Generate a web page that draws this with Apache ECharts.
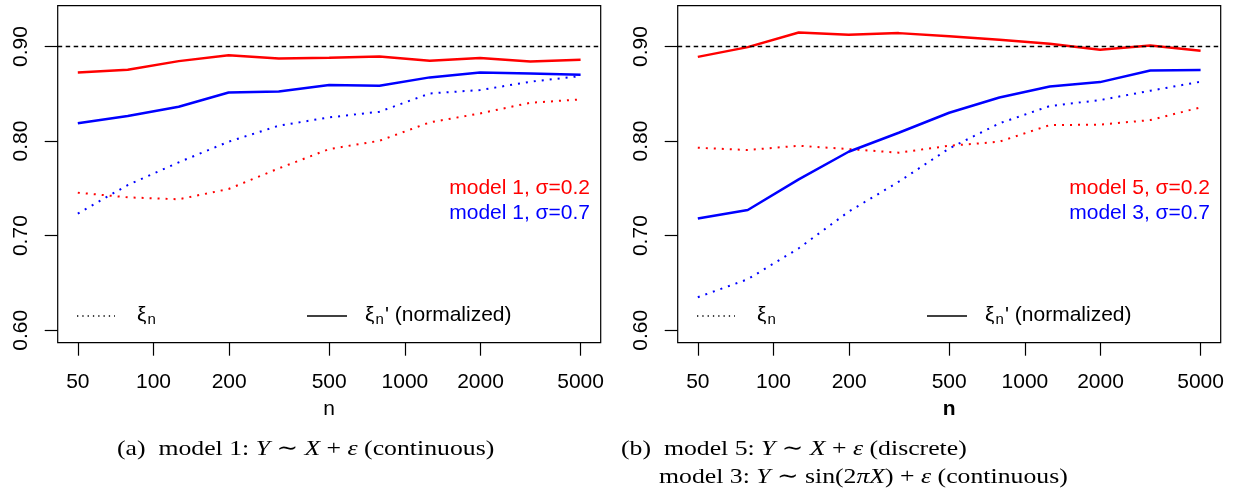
<!DOCTYPE html>
<html>
<head>
<meta charset="utf-8">
<script src="https://cdn.jsdelivr.net/npm/echarts@6/dist/echarts.min.js"></script>
<style>
html,body{margin:0;padding:0;background:#fff;}
#c{width:1235px;height:497px;}
</style>
</head>
<body>
<div id="c"></div>
<script>
// ---- data ----
const N = [50, 79, 126, 199, 315, 500, 792, 1256, 1991, 3155, 5000];
const xTicks = [50, 100, 200, 500, 1000, 2000, 5000];
const yTicks = [0.6, 0.7, 0.8, 0.9];
const refLevel = 0.90;

// panel (a): model 1
const aRedSolid  = [0.8725, 0.8754, 0.8845, 0.8908, 0.8873, 0.8880, 0.8894, 0.8849, 0.8877, 0.8842, 0.8859];
const aBlueSolid = [0.8187, 0.8264, 0.8363, 0.8514, 0.8525, 0.8592, 0.8585, 0.8673, 0.8725, 0.8715, 0.8700];
const aRedDot    = [0.7454, 0.7405, 0.7384, 0.7493, 0.7711, 0.7915, 0.8003, 0.8197, 0.8292, 0.8405, 0.8440];
const aBlueDot   = [0.7233, 0.7535, 0.7775, 0.7993, 0.8162, 0.8250, 0.8310, 0.8503, 0.8539, 0.8627, 0.8687];

// panel (b): model 5 (red) and model 3 (blue)
const bRedSolid  = [0.8890, 0.8993, 0.9148, 0.9123, 0.9141, 0.9109, 0.9070, 0.9028, 0.8965, 0.9011, 0.8954];
const bBlueSolid = [0.7180, 0.7271, 0.7595, 0.7887, 0.8088, 0.8299, 0.8461, 0.8577, 0.8623, 0.8746, 0.8750];
const bRedDot    = [0.7929, 0.7905, 0.7950, 0.7915, 0.7877, 0.7950, 0.7993, 0.8169, 0.8173, 0.8222, 0.8356];
const bBlueDot   = [0.6349, 0.6539, 0.6866, 0.7253, 0.7570, 0.7922, 0.8187, 0.8370, 0.8433, 0.8532, 0.8627];

const legendA = ['model 1, σ=0.2', 'model 1, σ=0.7'];
const legendB = ['model 5, σ=0.2', 'model 3, σ=0.7'];
const xName = 'n';
const captionA = '(a)  model 1: {i|Y} ∼ {i|X} + {i|ε} (continuous)';
const captionB1 = '(b)  model 5: {i|Y} ∼ {i|X} + {i|ε} (discrete)';
const captionB2 = 'model 3: {i|Y} ∼ sin(2{i|π}{i|X}) + {i|ε} (continuous)';

// ---- layout / style ----
const RED = '#ff0000', BLUE = '#0000ff';
const SANS = '"Liberation Sans", Arial, Helvetica, sans-serif';
const SERIF = '"Liberation Serif", "DejaVu Serif", serif';
const FS = 21;
const xMin = Math.pow(10, Math.log10(50) - 0.08);
const xMax = Math.pow(10, Math.log10(5000) + 0.08);
const yMin = 0.6 - 0.33 * 0.04, yMax = 0.93 + 0.33 * 0.04;
const GL = [57.7, 677.7], GT = 5.6, GW = 543, GH = 337.1;

const pair = arr => N.map((n, i) => [n, arr[i]]);

function xAxisFor(idx, bold) {
  return {
    type: 'log', logBase: 10, gridIndex: idx, min: xMin, max: xMax,
    name: xName, nameLocation: 'middle', nameGap: 56,
    nameTextStyle: { fontFamily: SANS, fontSize: FS, color: '#000', fontWeight: bold ? 'bold' : 'normal' },
    axisLine: { show: false },
    axisTick: { show: true, length: 13, customValues: xTicks, lineStyle: { color: '#000', width: 1.2 } },
    axisLabel: { customValues: xTicks, margin: 29, fontFamily: SANS, fontSize: FS, color: '#000',
      formatter: v => String(Math.round(v)) },
    splitLine: { show: false }, minorTick: { show: false }
  };
}
function yAxisFor(idx) {
  return {
    type: 'value', gridIndex: idx, min: yMin, max: yMax,
    axisLine: { show: false },
    axisTick: { show: true, length: 13, customValues: yTicks, lineStyle: { color: '#000', width: 1.2 } },
    axisLabel: { customValues: yTicks, rotate: 90, margin: 26, fontFamily: SANS, fontSize: FS, color: '#000',
      formatter: v => v.toFixed(2) },
    splitLine: { show: false }
  };
}
function lineSeries(idx, arr, color, dotted, withRef) {
  const s = {
    type: 'line', xAxisIndex: idx, yAxisIndex: idx, data: pair(arr),
    showSymbol: false, symbol: 'none', silent: true, animation: false,
    lineStyle: dotted ? { color, width: 2, type: [2, 6], cap: 'butt' } : { color, width: 2.5 },
    z: 3
  };
  if (withRef) {
    s.markLine = {
      silent: true, symbol: ['none', 'none'], label: { show: false }, animation: false,
      lineStyle: { color: '#000', width: 1.4, type: [4.5, 3.5] },
      data: [{ yAxis: refLevel }]
    };
  }
  return s;
}

const graphics = [];
function legendFor(p, labels) {
  const ox = GL[p] - GL[0];
  graphics.push({ type: 'text', x: 590 + ox, y: 188, style: { text: labels[0], fill: RED, font: FS + 'px ' + SANS, textAlign: 'right', align: 'right', textVerticalAlign: 'middle', verticalAlign: 'middle' } });
  graphics.push({ type: 'text', x: 590 + ox, y: 213.5, style: { text: labels[1], fill: BLUE, font: FS + 'px ' + SANS, textAlign: 'right', align: 'right', textVerticalAlign: 'middle', verticalAlign: 'middle' } });
  // line samples
  graphics.push({ type: 'line', shape: { x1: 77 + ox, y1: 316, x2: 115 + ox, y2: 316 }, style: { stroke: '#000', lineWidth: 1.3, lineDash: [1.3, 4] } });
  graphics.push({ type: 'line', shape: { x1: 307 + ox, y1: 316, x2: 347 + ox, y2: 316 }, style: { stroke: '#000', lineWidth: 1.3 } });
  // xi_n
  graphics.push({ type: 'text', x: 137 + ox, y: 315, style: { text: 'ξ', fill: '#000', font: FS + 'px ' + SANS, textAlign: 'left', align: 'left', textVerticalAlign: 'middle', verticalAlign: 'middle' } });
  graphics.push({ type: 'text', x: 147.5 + ox, y: 320, style: { text: 'n', fill: '#000', font: '15px ' + SANS, textAlign: 'left', align: 'left', textVerticalAlign: 'middle', verticalAlign: 'middle' } });
  // xi_n' (normalized)
  graphics.push({ type: 'text', x: 365 + ox, y: 315, style: { text: 'ξ', fill: '#000', font: FS + 'px ' + SANS, textAlign: 'left', align: 'left', textVerticalAlign: 'middle', verticalAlign: 'middle' } });
  graphics.push({ type: 'text', x: 375.5 + ox, y: 320, style: { text: 'n', fill: '#000', font: '15px ' + SANS, textAlign: 'left', align: 'left', textVerticalAlign: 'middle', verticalAlign: 'middle' } });
  graphics.push({ type: 'text', x: 385 + ox, y: 315, style: { text: "' (normalized)", fill: '#000', font: FS + 'px ' + SANS, textAlign: 'left', align: 'left', textVerticalAlign: 'middle', verticalAlign: 'middle' } });
}
legendFor(0, legendA);
legendFor(1, legendB);

const CFS = 22;
const capRich = { i: { fontStyle: 'italic', fontFamily: SERIF, fontSize: CFS, fill: '#000', color: '#000' } };
function caption(txt, x, y) {
  graphics.push({ type: 'text', x, y, scaleX: 1.17, style: { text: txt, fill: '#000', font: CFS + 'px ' + SERIF, textAlign: 'left', align: 'left', textVerticalAlign: 'middle', verticalAlign: 'middle', rich: capRich } });
}
caption(captionA, 117, 449);
caption(captionB1, 621, 449);
caption(captionB2, 659, 477);

const chart = echarts.init(document.getElementById('c'), null, { renderer: 'canvas' });
chart.setOption({
  animation: false,
  backgroundColor: '#fff',
  grid: [
    { left: GL[0], top: GT, width: GW, height: GH, show: true, borderColor: '#000', borderWidth: 1.2, backgroundColor: 'transparent', containLabel: false },
    { left: GL[1], top: GT, width: GW, height: GH, show: true, borderColor: '#000', borderWidth: 1.2, backgroundColor: 'transparent', containLabel: false }
  ],
  xAxis: [xAxisFor(0, false), xAxisFor(1, true)],
  yAxis: [yAxisFor(0), yAxisFor(1)],
  series: [
    lineSeries(0, aRedDot, RED, true, true),
    lineSeries(0, aBlueDot, BLUE, true, false),
    lineSeries(0, aRedSolid, RED, false, false),
    lineSeries(0, aBlueSolid, BLUE, false, false),
    lineSeries(1, bRedDot, RED, true, true),
    lineSeries(1, bBlueDot, BLUE, true, false),
    lineSeries(1, bRedSolid, RED, false, false),
    lineSeries(1, bBlueSolid, BLUE, false, false)
  ],
  graphic: graphics
});
</script>
</body>
</html>
